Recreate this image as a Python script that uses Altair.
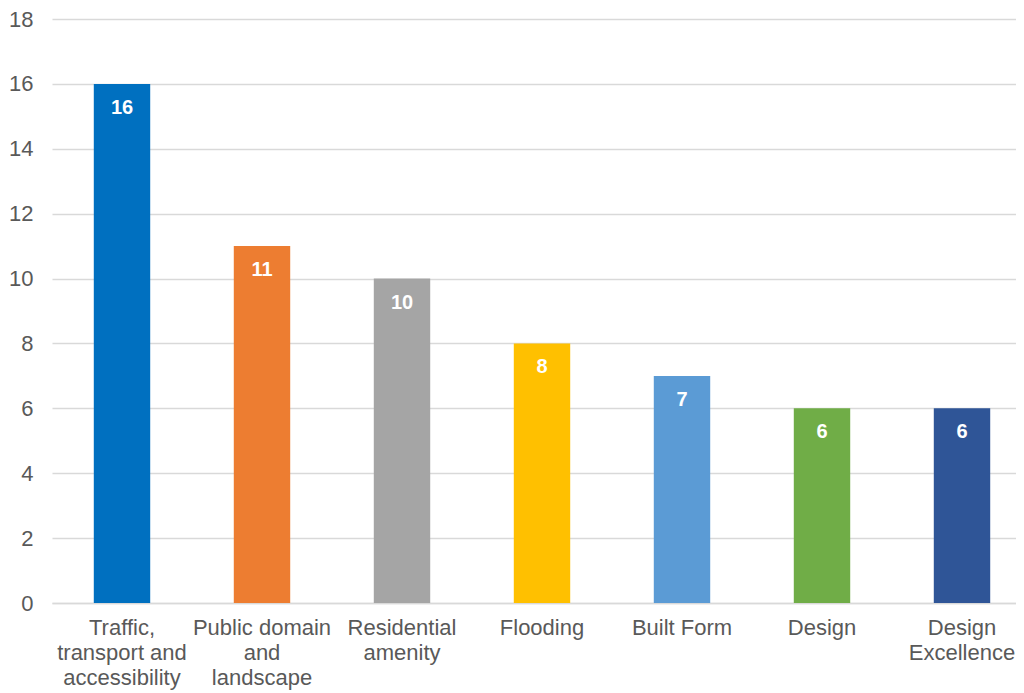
import altair as alt
import pandas as pd

categories = [
    "Traffic,\ntransport and\naccessibility",
    "Public domain\nand\nlandscape",
    "Residential\namenity",
    "Flooding",
    "Built Form",
    "Design",
    "Design\nExcellence",
]
values = [16, 11, 10, 8, 7, 6, 6]
colors = ["#0070C0", "#ED7D31", "#A5A5A5", "#FFC000", "#5B9BD5", "#70AD47", "#2F5597"]

df = pd.DataFrame({"category": categories, "value": values, "color": colors})

FONT = "Liberation Sans"

x = alt.X(
    "category:N",
    sort=categories,
    scale=alt.Scale(paddingInner=0.597, paddingOuter=0.2985, range=[0, 980]),
    axis=alt.Axis(
        title=None,
        labelAngle=0,
        labelExpr="split(datum.value, '\\n')",
        labelFont=FONT,
        labelFontSize=22,
        labelColor="#595959",
        labelLineHeight=25,
        labelPadding=14,
        ticks=False,
        domain=True,
        domainColor="#D9D9D9",
        domainWidth=1.5,
        labelBaseline="top",
    ),
)

bars = alt.Chart(df).mark_bar().encode(
    x=x,
    y=alt.Y(
        "value:Q",
        scale=alt.Scale(domain=[0, 18], nice=False),
        axis=alt.Axis(
            title=None,
            values=list(range(0, 19, 2)),
            labelFont=FONT,
            labelFontSize=22,
            labelColor="#595959",
            labelPadding=19,
            ticks=False,
            domain=False,
            grid=True,
            gridColor="#D9D9D9",
            gridWidth=1.5,
        ),
    ),
    color=alt.Color("color:N", scale=None),
)

text = alt.Chart(df).mark_text(
    baseline="middle", dy=24, color="white", font=FONT, fontWeight="bold", fontSize=20
).encode(
    x=alt.X("category:N", sort=categories),
    y="value:Q",
    text="value:Q",
)

chart = (
    alt.layer(bars, text)
    .properties(
        width=964,
        height=584,
        autosize=alt.AutoSizeParams(type="none"),
        padding={"left": 44, "top": 11, "right": 0, "bottom": 90},
    )
    .configure_view(stroke=None)
)

chart.save("out.html", embed_options={"renderer": "svg", "actions": False})
